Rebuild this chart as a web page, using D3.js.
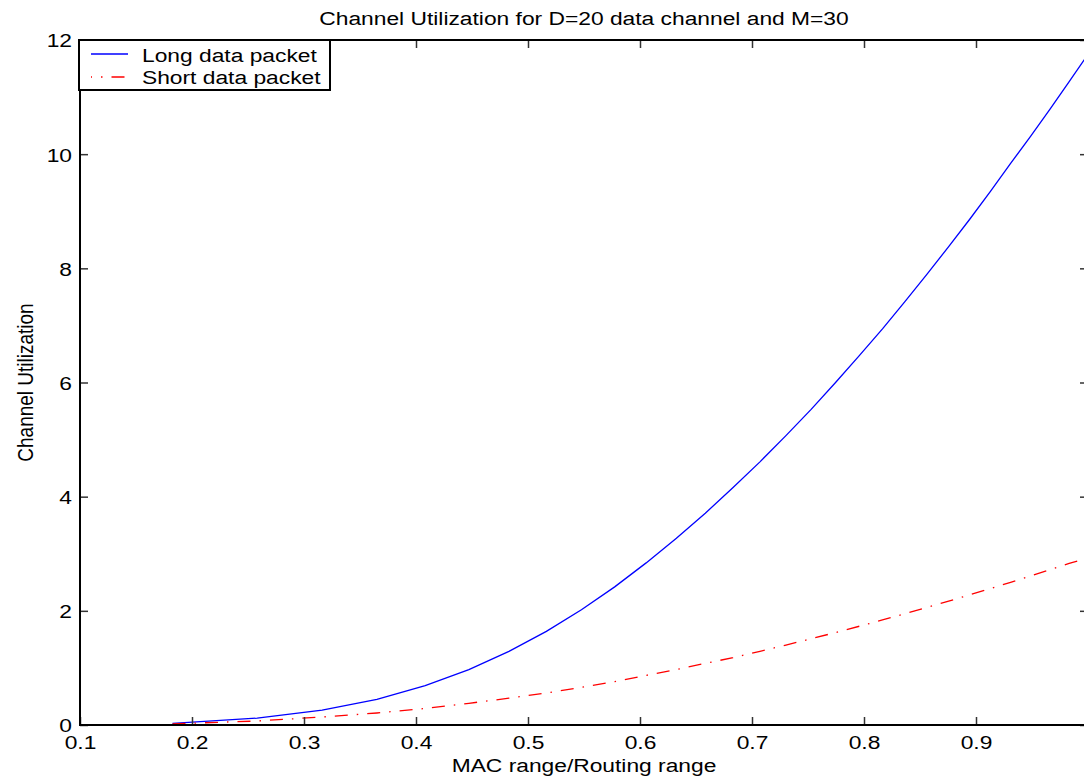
<!DOCTYPE html>
<html>
<head>
<meta charset="utf-8">
<script src="https://cdn.jsdelivr.net/npm/d3@7"></script>
<style>
  html, body { margin: 0; padding: 0; background: #fff; overflow: hidden; }
  svg { display: block; }
  text { font-family: "Liberation Sans", Arial, Helvetica, sans-serif; fill: #000; }
</style>
</head>
<body>
<svg id="chart" width="1084" height="778"></svg>
<script>
// ---- data ----
const ratio = [0.1826,0.2582,0.3162,0.3651,0.4082,0.4472,0.4830,0.5164,0.5477,0.5774,
               0.6055,0.6325,0.6583,0.6831,0.7071,0.7303,0.7528,0.7746,0.7958,0.8165,
               0.8367,0.8563,0.8756,0.8944,0.9129,0.9309,0.9487,0.9661,0.9832,1.0000];
const longPacket = [0.03,0.12,0.26,0.45,0.69,0.97,1.29,1.64,2.02,2.42,
                    2.84,3.27,3.71,4.16,4.61,5.07,5.53,6.00,6.47,6.94,
                    7.42,7.90,8.38,8.86,9.35,9.84,10.31,10.79,11.27,11.75];
const shortPacket = [0.02,0.07,0.14,0.21,0.29,0.38,0.47,0.56,0.66,0.76,
                     0.87,0.97,1.08,1.18,1.29,1.40,1.51,1.62,1.73,1.84,
                     1.95,2.06,2.17,2.28,2.39,2.50,2.61,2.72,2.83,2.93];
const xTicks = [0.1,0.2,0.3,0.4,0.5,0.6,0.7,0.8,0.9,1.0];
const xTickLabels = ["0.1","0.2","0.3","0.4","0.5","0.6","0.7","0.8","0.9",""];
const yTicks = [0,2,4,6,8,10,12];
const titleText = "Channel Utilization for D=20 data channel and M=30";
const xLabel = "MAC range/Routing range";
const yLabel = "Channel Utilization";
const seriesNames = ["Long data packet","Short data packet"];

// ---- layout ----
const L = 80, R = 1088, T = 40, B = 725;
const FS = 19, SX = 1.2;   // font size and horizontal stretch of glyphs
const svg = d3.select("#chart");

const x = d3.scaleLinear().domain([0.1, 1.0]).range([L, R]);
const y = d3.scaleLinear().domain([0, 12]).range([B, T]);

// curves
const line = d3.line().x(d => x(d[0])).y(d => y(d[1]));
svg.append("path")
  .datum(ratio.map((r,i) => [r, longPacket[i]]))
  .attr("d", line).attr("fill","none").attr("stroke","#0000ff").attr("stroke-width",1.3);
svg.append("path")
  .datum(ratio.map((r,i) => [r, shortPacket[i]]))
  .attr("d", line).attr("fill","none").attr("stroke","#ff0000").attr("stroke-width",1.3)
  .attr("stroke-dasharray","13,9,1.5,9");

// axes with inward ticks
function styleAxis(g) {
  g.select(".domain").remove();
  g.selectAll(".tick line").attr("stroke","#333").attr("stroke-width",1.5);
}
const fmt = v => xTickLabels[xTicks.indexOf(v)];
const gx = svg.append("g").attr("transform",`translate(0,${B})`)
  .call(d3.axisBottom(x).tickValues(xTicks).tickFormat(fmt).tickSizeInner(-8).tickSizeOuter(0));
styleAxis(gx);
gx.selectAll(".tick text").attr("y", 24).attr("dy", 0).attr("font-size", FS)
  .attr("font-family", "Liberation Sans, Arial, sans-serif").attr("fill","#000")
  .attr("transform", `scale(${SX},1)`);

const gxt = svg.append("g").attr("transform",`translate(0,${T})`)
  .call(d3.axisTop(x).tickValues(xTicks).tickFormat("").tickSizeInner(-8).tickSizeOuter(0));
styleAxis(gxt);

const gy = svg.append("g").attr("transform",`translate(${L},0)`)
  .call(d3.axisLeft(y).tickValues(yTicks).tickFormat(d3.format("d")).tickSizeInner(-8).tickSizeOuter(0));
styleAxis(gy);
gy.selectAll(".tick text").attr("x", -8 / SX).attr("dy", "0.36em").attr("font-size", FS)
  .attr("font-family", "Liberation Sans, Arial, sans-serif").attr("fill","#000")
  .attr("transform", `scale(${SX},1)`);

const gyr = svg.append("g").attr("transform",`translate(${R},0)`)
  .call(d3.axisRight(y).tickValues(yTicks).tickFormat("").tickSizeInner(-8).tickSizeOuter(0));
styleAxis(gyr);

// frame
svg.append("rect").attr("x", L).attr("y", T).attr("width", R - L).attr("height", B - T)
  .attr("fill","none").attr("stroke","#000").attr("stroke-width",2);

// title and axis labels
svg.append("text").attr("transform", `translate(${(L+R)/2},25) scale(${SX},1)`)
  .attr("text-anchor","middle").attr("font-size", FS).text(titleText);
svg.append("text").attr("transform", `translate(${(L+R)/2},772) scale(${SX},1)`)
  .attr("text-anchor","middle").attr("font-size", FS).text(xLabel);
svg.append("text").attr("transform", `translate(33,${(T+B)/2}) scale(${SX},1) rotate(-90)`)
  .attr("text-anchor","middle").attr("font-size", FS).text(yLabel);

// legend
const lg = svg.append("g");
lg.append("rect").attr("x", 79).attr("y", 40).attr("width", 251).attr("height", 50)
  .attr("fill","#fff").attr("stroke","#000").attr("stroke-width",2);
const legendRows = [
  {name: seriesNames[0], color: "#0000ff", dash: null, ly: 54, ty: 62},
  {name: seriesNames[1], color: "#ff0000", dash: "13,9,1.5,9", ly: 77, ty: 84}
];
legendRows.forEach(r => {
  lg.append("line").attr("x1", 91).attr("x2", 128).attr("y1", r.ly).attr("y2", r.ly)
    .attr("stroke", r.color).attr("stroke-width", 1.3)
    .attr("stroke-dasharray", r.dash).attr("stroke-dashoffset", r.dash ? 12 : null);
  lg.append("text").attr("transform", `translate(142,${r.ty}) scale(${SX},1)`)
    .attr("font-size", FS).text(r.name);
});
</script>
</body>
</html>
